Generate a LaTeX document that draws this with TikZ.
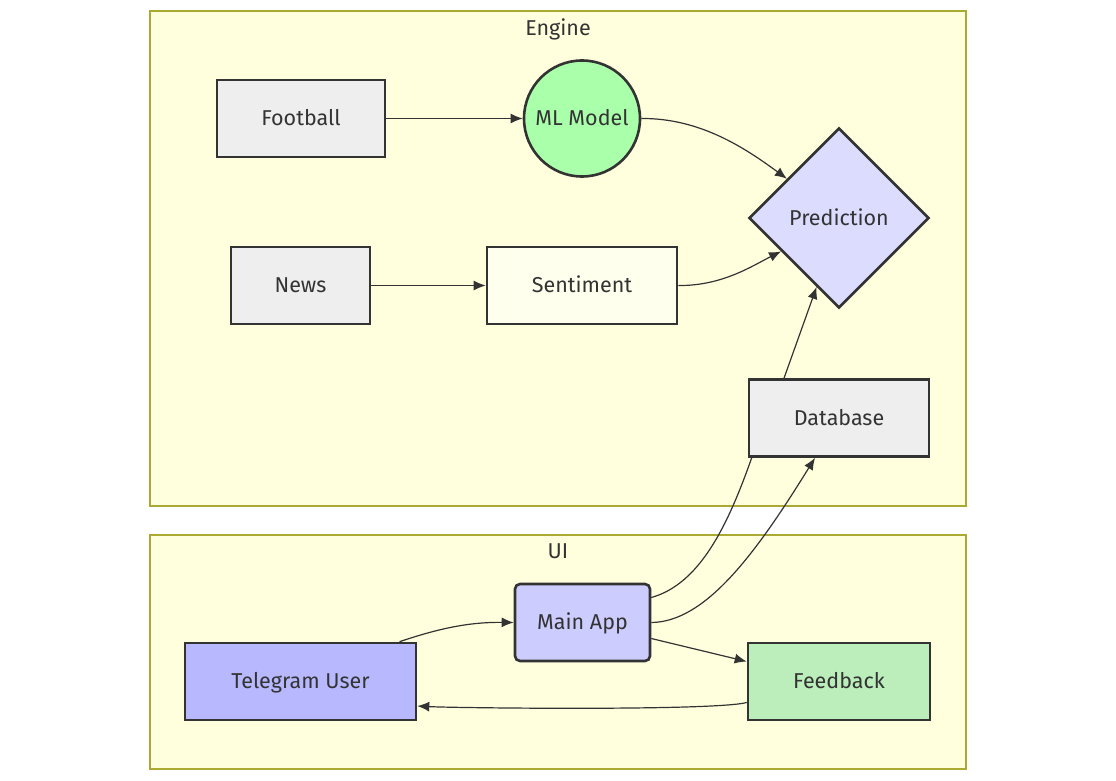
\documentclass[tikz,border=0pt]{standalone}
\usepackage{fontspec}
\setmainfont{Fira Sans}
\usetikzlibrary{shapes.geometric,arrows.meta,calc}
\definecolor{clfill}{HTML}{FFFFDE}
\definecolor{clline}{HTML}{AAAA33}
\definecolor{ink}{HTML}{333333}
\definecolor{greyfill}{HTML}{EEEEEE}
\definecolor{mlfill}{HTML}{AAFFAA}
\definecolor{predfill}{HTML}{DCDCFF}
\definecolor{sentfill}{HTML}{FFFFEE}
\definecolor{appfill}{HTML}{CCCCFF}
\definecolor{userfill}{HTML}{B8B8FF}
\definecolor{fbfill}{HTML}{BBEEBB}
\tikzset{
  cluster/.style={draw=clline, fill=clfill, line width=1.2pt},
  cltitle/.style={text=ink, font=\fontsize{21.5}{25}\selectfont, inner sep=0pt, text height=16pt, text depth=1.5pt},
  base/.style={draw=ink, line width=2.6pt, text=ink, font=\fontsize{21.5}{25}\selectfont, inner sep=0pt, text height=16pt, text depth=1.5pt},
  boxnode/.style={base, rectangle},
  edge/.style={draw=ink, line width=1.2pt, -{Latex[length=12pt,width=10pt]}},
  plainedge/.style={draw=ink, line width=1.2pt},
}
\begin{document}
\begin{tikzpicture}[x=1pt,y=-1pt]
\useasboundingbox (0,0) rectangle (1116,781);
\fill[white] (0,0) rectangle (1116,781);
% clusters
\draw[cluster] (150,11) rectangle (966,506);
\node[cltitle] (engt) at (558,28) {Engine};
\draw[cluster] (150,535) rectangle (966,769);
\node[cltitle] (uit) at (558,551) {UI};
% nodes
\node[boxnode, fill=greyfill, minimum width=168pt, minimum height=77pt] (fb) at (301,118.5) {Football};
\node[base, circle, fill=mlfill, minimum size=116pt] (ml) at (582,118.5) {ML Model};
\node[base, diamond, aspect=1, fill=predfill, minimum width=180pt, minimum height=180pt] (pred) at (839,218) {Prediction};
\node[boxnode, fill=greyfill, minimum width=139pt, minimum height=77pt] (news) at (300.5,285.5) {News};
\node[boxnode, fill=sentfill, minimum width=190pt, minimum height=77pt] (sent) at (582,285.5) {Sentiment};
\node[boxnode, fill=greyfill, minimum width=180pt, minimum height=77pt] (db) at (839,418) {Database};
\node[boxnode, fill=appfill, rounded corners=5pt, minimum width=135pt, minimum height=77pt] (app) at (582.5,622.5) {Main App};
\node[boxnode, fill=userfill, minimum width=231pt, minimum height=77pt] (user) at (300.5,681.5) {Telegram User};
\node[boxnode, fill=fbfill, minimum width=182pt, minimum height=77pt] (feed) at (839,681.5) {Feedback};
% edges
\draw[edge] (fb.east) -- (ml.west);
\draw[edge] (ml.east) .. controls (700,118) and (745,148) .. (pred.143);
\draw[edge] (news.east) -- (sent.west);
\draw[edge] (sent.east) .. controls (722,286) and (752,266) .. (pred.210);
\draw[edge] ($(db.north)+(-55,0)$) -- (pred.252);
\draw[plainedge] ($(db.south west)+(4,0)$) .. controls (728,525) and (700,584) .. ($(app.east)+(0,-25)$);
\draw[edge] (app.east) .. controls (705,622) and (755,555) .. ($(db.south)+(-24,0)$);
\draw[edge] ($(app.east)+(0,16)$) -- ($(feed.west)+(0,-20)$);
\draw[edge] ($(feed.west)+(0,21)$) .. controls (715,711) and (455,708) .. ($(user.east)+(0,24.5)$);
\draw[edge] ($(user.north)+(99,0)$) .. controls (440,628) and (470,622) .. (app.west);
\end{tikzpicture}
\end{document}
